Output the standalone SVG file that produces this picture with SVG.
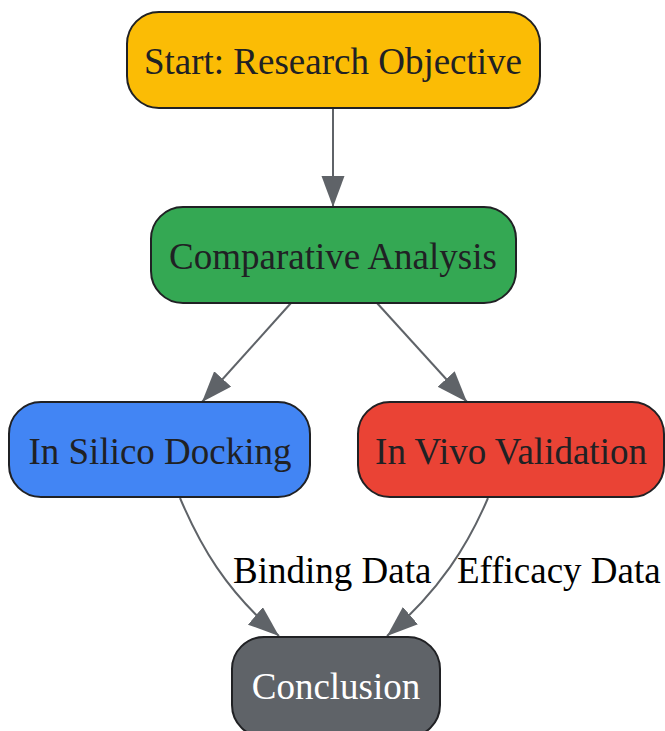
<svg xmlns="http://www.w3.org/2000/svg" width="665" height="731" viewBox="0 0 665 731">
<defs>
<marker id="arr" markerUnits="userSpaceOnUse" markerWidth="32" markerHeight="24" refX="31" refY="11.5" orient="auto">
<path d="M0,0 L31,11.5 L0,23 z" fill="#5F6368"/>
</marker>
<style>
.node rect{stroke:#202124;stroke-width:2}
.node text{font-family:"Liberation Serif",serif;font-size:37px;text-anchor:middle;fill:#202124}
.edge{fill:none;stroke:#5F6368;stroke-width:2;marker-end:url(#arr)}
.lbl{font-family:"Liberation Serif",serif;font-size:37px;fill:#000}
</style>
</defs>
<rect width="665" height="731" fill="#fff"/>
<g id="connectors">
<path class="edge" d="M333,108 L333,207"/>
<path class="edge" d="M291,303 L202,402"/>
<path class="edge" d="M377,303 L467,402"/>
<path class="edge" d="M180,498 C200,545 225,590 279,636"/>
<path class="edge" d="M488,498 C468,545 440,590 387,636"/>
<text class="lbl" x="233" y="583">Binding Data</text>
<text class="lbl" x="457" y="583">Efficacy Data</text>
</g>
<g id="start" class="node">
<rect x="127" y="12" width="413" height="96" rx="32" fill="#FBBC05"/>
<text x="333" y="74">Start: Research Objective</text>
</g>
<g id="comparative" class="node">
<rect x="151" y="207" width="365" height="96" rx="32" fill="#34A853"/>
<text x="333" y="269">Comparative Analysis</text>
</g>
<g id="insilico" class="node">
<rect x="9" y="402" width="301" height="95" rx="32" fill="#4285F4"/>
<text x="160" y="464">In Silico Docking</text>
</g>
<g id="invivo" class="node">
<rect x="358" y="402" width="306" height="95" rx="32" fill="#EA4335"/>
<text x="511" y="464">In Vivo Validation</text>
</g>
<g id="conclusion" class="node">
<rect x="232" y="637" width="208" height="100" rx="32" fill="#5F6368"/>
<text x="336" y="699" style="fill:#fff">Conclusion</text>
</g>
</svg>
